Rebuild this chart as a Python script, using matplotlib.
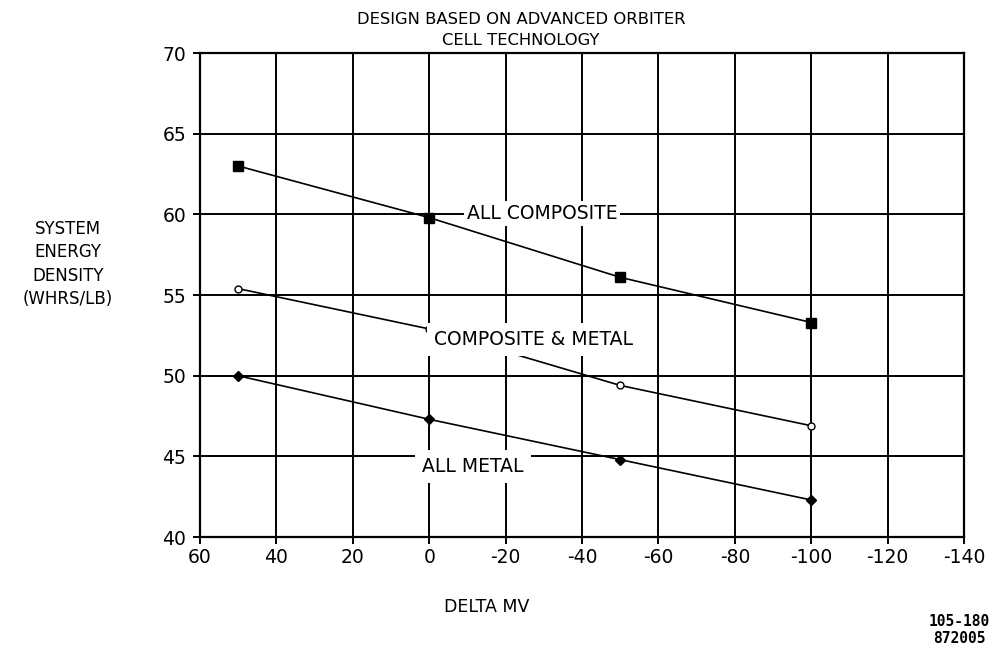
import matplotlib
matplotlib.use("Agg")
import matplotlib.pyplot as plt

plt.rcParams['font.family'] = ['DejaVu Sans']

# Delta MV values where each design was evaluated
delta_mv = [50, 0, -50, -100]

# System energy density (WHRS/LB) for each construction
all_composite = [63.0, 59.8, 56.1, 53.3]
composite_metal = [55.4, 52.9, 49.4, 46.9]
all_metal = [50.0, 47.3, 44.8, 42.3]

x_ticks = [60, 40, 20, 0, -20, -40, -60, -80, -100, -120, -140]
y_ticks = [40, 45, 50, 55, 60, 65, 70]

fig = plt.figure(figsize=(9.95, 6.55), dpi=100)
ax = fig.add_axes([0.201, 0.180, 0.768, 0.739])

ax.set_xlim(60, -140)
ax.set_ylim(40, 70)
ax.set_xticks(x_ticks)
ax.set_yticks(y_ticks)
ax.set_xticklabels([str(t) for t in x_ticks])
ax.grid(True, color='black', linewidth=1.4, zorder=1)
for s in ax.spines.values():
    s.set_linewidth(1.6)
ax.tick_params(axis='both', direction='out', length=5, width=1.4,
               labelsize=13.5)
ax.tick_params(axis='x', pad=3)
ax.tick_params(axis='y', pad=5)

lw = 1.2
ax.plot(delta_mv, all_composite, color='black', linewidth=lw,
        marker='s', markersize=7, zorder=3)
ax.plot(delta_mv, composite_metal, color='black', linewidth=lw,
        marker='o', markersize=5, markerfacecolor='white',
        markeredgewidth=1.0, zorder=3)
ax.plot(delta_mv, all_metal, color='black', linewidth=lw,
        marker='D', markersize=5.5, zorder=3)

label_kw = dict(fontsize=13.5, ha='center', va='center', zorder=4)
ax.text(-29.5, 60.05, 'ALL COMPOSITE',
        bbox=dict(facecolor='white', edgecolor='none', pad=2), **label_kw)
ax.text(-27.2, 52.26, 'COMPOSITE & METAL',
        bbox=dict(facecolor='white', edgecolor='none', pad=5), **label_kw)
ax.text(-11.5, 44.35, 'ALL METAL',
        bbox=dict(facecolor='white', edgecolor='none', pad=5), **label_kw)

fig.text(487 / 995, 1 - 607 / 655, 'DELTA MV',
         ha='center', va='center', fontsize=12.5)

fig.text(521 / 995, 1 - 30 / 655,
         'DESIGN BASED ON ADVANCED ORBITER\nCELL TECHNOLOGY',
         ha='center', va='center', fontsize=11.8, linespacing=1.45)

fig.text(68 / 995, 1 - 264 / 655,
         'SYSTEM\nENERGY\nDENSITY\n(WHRS/LB)',
         ha='center', va='center', fontsize=12, linespacing=1.4)

fig.text(959 / 995, 1 - 630 / 655, '105-180\n872005',
         ha='center', va='center', fontsize=10.5, fontweight='bold',
         family='DejaVu Sans Mono', linespacing=1.1)

fig.savefig('out.png', dpi=100, facecolor='white')
